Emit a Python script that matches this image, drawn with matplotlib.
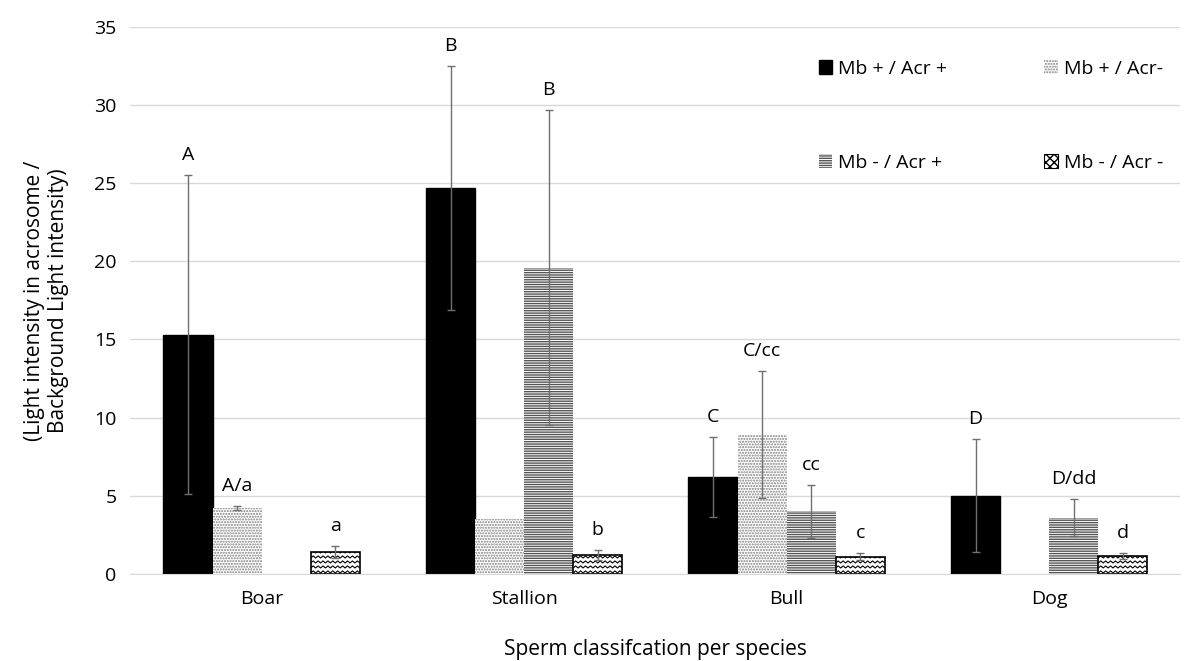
import matplotlib.pyplot as plt
import numpy as np
from matplotlib.collections import LineCollection
from matplotlib.patches import Patch

plt.rcParams['font.family'] = ['Open Sans', 'DejaVu Sans']

species = ["Boar", "Stallion", "Bull", "Dog"]
series = ["Mb + / Acr +", "Mb + / Acr-", "Mb - / Acr +", "Mb - / Acr -"]

# values per series (Boar, Stallion, Bull, Dog)
mbp_acrp = [15.3, 24.7, 6.2, 5.0]
mbp_acrm = [4.2, 3.5, 8.9, 0.0]
mbm_acrp = [0.0, 19.6, 4.0, 3.6]
mbm_acrm = [1.4, 1.2, 1.1, 1.15]

err_mbp_acrp = [10.2, 7.8, 2.55, 3.6]
err_mbp_acrm = [0.15, 0.0, 4.05, 0.0]
err_mbm_acrp = [0.0, 10.1, 1.7, 1.2]
err_mbm_acrm = [0.4, 0.3, 0.2, 0.2]

lbl_mbp_acrp = ["A", "B", "C", "D"]
lbl_mbp_acrm = ["A/a", "", "C/cc", ""]
lbl_mbm_acrp = ["", "B", "cc", "D/dd"]
lbl_mbm_acrm = ["a", "b", "c", "d"]

values = [mbp_acrp, mbp_acrm, mbm_acrp, mbm_acrm]
errors = [err_mbp_acrp, err_mbp_acrm, err_mbm_acrp, err_mbm_acrm]
letters = [lbl_mbp_acrp, lbl_mbp_acrm, lbl_mbm_acrp, lbl_mbm_acrm]

styles = [
    dict(color="black", edgecolor="black"),
    dict(color="white", edgecolor="#808080", hatch="......", linewidth=0),
    dict(color="white", edgecolor="#555555", hatch="-------", linewidth=0),
    dict(color="white", edgecolor="black", linewidth=1.2),
]

fig, ax = plt.subplots(figsize=(11.96, 6.61), dpi=100)
fig.subplots_adjust(left=0.109, right=0.987, top=0.959, bottom=0.132)

x = np.arange(len(species))
width = 0.187
handles = []
for i in range(4):
    pos = x + (i - 1.5) * width
    bars = ax.bar(pos, values[i], width, label=series[i], zorder=2, **styles[i])
    handles.append(bars)
    if i == 3:
        # zigzag fill drawn by hand, clipped to each bar
        for b in bars:
            x0, h = b.get_x(), b.get_height()
            xs = np.linspace(x0, x0 + width, 21)
            segs = []
            for yb in np.arange(0.05, h + 0.35, 0.32):
                ys = yb + np.where(np.arange(len(xs)) % 2 == 0, 0.0, 0.13)
                segs.append(np.column_stack([xs, ys]))
            lc = LineCollection(segs, colors="black", linewidths=0.8, zorder=2.5)
            ax.add_collection(lc)
            lc.set_clip_path(b)
    for xp, v, e, t in zip(pos, values[i], errors[i], letters[i]):
        if e > 0:
            ax.errorbar(xp, v, yerr=e, fmt="none", ecolor="#707070",
                        elinewidth=1, capsize=3, capthick=1, zorder=3)
        if t:
            ax.annotate(t, (xp, v + e), xytext=(0, 8), textcoords="offset points",
                        ha="center", va="bottom", fontsize=14)

ax.set_ylim(0, 35)
ax.set_xlim(-0.5, 3.5)
ax.set_yticks(range(0, 36, 5))
ax.set_xticks(x)
ax.set_xticklabels(species)
ax.tick_params(length=0, labelsize=14)
ax.tick_params(axis="x", pad=12)
ax.tick_params(axis="y", pad=10)
ax.yaxis.grid(True, color="#d9d9d9", linewidth=1)
ax.set_axisbelow(True)
for s in ["top", "right", "left"]:
    ax.spines[s].set_visible(False)
ax.spines["bottom"].set_color("#d9d9d9")

ax.set_xlabel("Sperm classifcation per species", fontsize=15, labelpad=22)
ax.set_ylabel("(Light intensity in acrosome /\nBackground Light intensity)", fontsize=15, labelpad=18)

leg_handles = [handles[0], handles[1], handles[2],
               Patch(facecolor="white", edgecolor="black", hatch="xxxx", linewidth=0.8)]
order = [0, 2, 1, 3]
ax.legend([leg_handles[k] for k in order], [series[k] for k in order], ncol=2,
          loc="upper right", bbox_to_anchor=(1.0, 0.972), frameon=False, fontsize=14,
          handlelength=0.7, handleheight=0.7, handletextpad=0.3,
          labelspacing=3.9, columnspacing=5.0)

plt.savefig("out.png")
